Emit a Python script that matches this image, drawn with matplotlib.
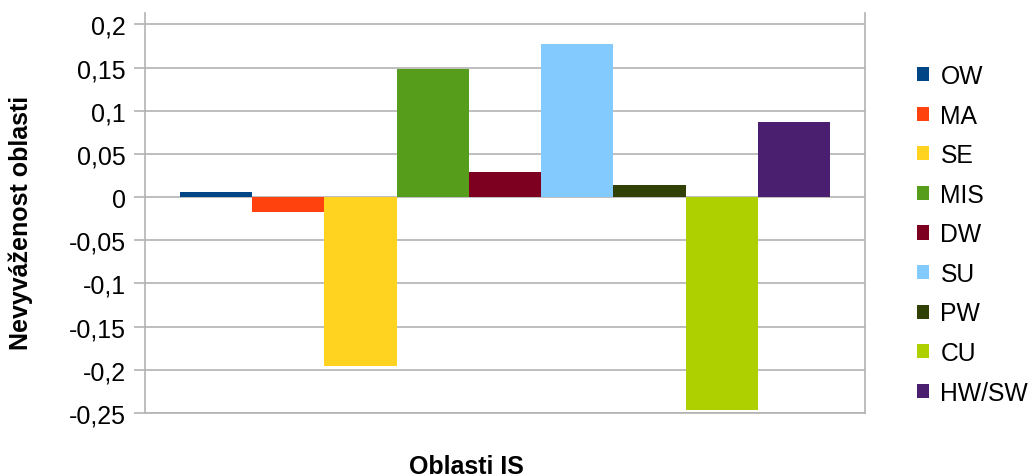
import matplotlib
matplotlib.use("Agg")
import matplotlib.pyplot as plt
from matplotlib.ticker import FixedLocator, FuncFormatter
import numpy as np

categories = ["OW", "MA", "SE", "MIS", "DW", "SU", "PW", "CU", "HW/SW"]
values = [0.006, -0.017, -0.196, 0.149, 0.029, 0.177, 0.014, -0.247, 0.087]
colors = ["#004586", "#ff420e", "#ffd320", "#579d1c", "#7e0021",
          "#83caff", "#314004", "#aecf00", "#4b1f6f"]
yticks = [-0.25, -0.2, -0.15, -0.1, -0.05, 0, 0.05, 0.1, 0.15, 0.2]

plt.rcParams['font.family'] = ['Liberation Sans', 'DejaVu Sans']

fig = plt.figure(figsize=(10.36, 4.77), dpi=100)
ax = fig.add_axes([145/1036, 1 - 414/477, (865-145)/1036, (414-14)/477])

x = np.arange(len(categories))
for i, (c, v, col) in enumerate(zip(categories, values, colors)):
    ax.bar(x[i], v, width=1.0, color=col, label=c, linewidth=0, zorder=3)

ax.set_xlim(-0.5 - 0.48, len(categories) - 0.5 + 0.48)
ax.set_ylim(-0.25, 0.2133)
ax.yaxis.set_major_locator(FixedLocator(yticks))
def fmt(v, pos):
    s = ("%.2f" % v).rstrip("0").rstrip(".")
    if s in ("-0", "0."):
        s = "0"
    return s.replace(".", ",")
ax.yaxis.set_major_formatter(FuncFormatter(fmt))
ax.set_xticks([])
ax.grid(axis='y', color='#b3b3b3', linewidth=1.2, zorder=0)
ax.spines['top'].set_visible(False)
for s in ['left', 'right', 'bottom']:
    ax.spines[s].set_color('#b3b3b3')
    ax.spines[s].set_linewidth(1.2)
ax.tick_params(axis='y', length=8, width=1.2, color='#b3b3b3', labelsize=18, pad=6)

fig.text(466/1036, 1 - 467/477, "Oblasti IS", fontsize=18, fontweight='bold',
         ha='center', va='center')
fig.text(21/1036, 1 - 223/477, "Nevyváženost oblasti", fontsize=18, fontweight='bold',
         ha='center', va='center', rotation=90)

leg = ax.legend(loc='upper left', bbox_to_anchor=(917/1036, 1 - 65/477),
                bbox_transform=fig.transFigure, frameon=False, fontsize=17.8,
                handlelength=0.5, handleheight=0.5, handletextpad=0.45,
                labelspacing=0.63, borderaxespad=0, borderpad=0)

fig.savefig("out.png", dpi=100)
